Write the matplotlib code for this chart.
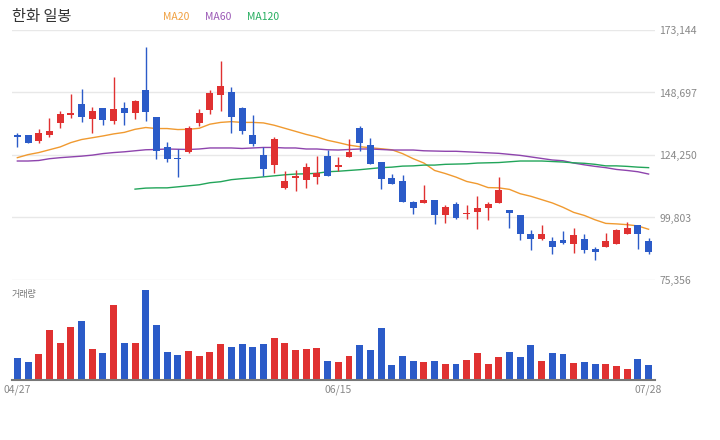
import matplotlib
matplotlib.use('Agg')
import matplotlib.pyplot as plt
import numpy as np

plt.rcParams['font.family'] = ['Noto Sans CJK KR', 'DejaVu Sans']

# daily OHLC (KRW)
opens = [131900, 131900, 129700, 132100, 136800, 139800, 144100, 138300, 142500, 137600,
         142500, 140700, 149600, 139000, 127200, 123200, 125300, 136700, 141800, 147600,
         148800, 142500, 131900, 124100, 120200, 111500, 115200, 114300, 115500, 123700,
         119500, 123400, 134700, 128000, 121700, 115100, 113900, 106000, 105400, 106800,
         100700, 104900, 101100, 101800, 103400, 105400, 102800, 100600, 93500, 91300,
         90700, 91100, 89300, 91500, 87300, 88100, 89600, 93500, 97000, 90700]
highs = [133000, 132200, 134300, 138900, 141400, 148000, 150000, 142900, 142500, 154700,
         144900, 145600, 166600, 139000, 129200, 126700, 135500, 142100, 149600, 161000,
         150800, 142900, 139800, 127400, 131200, 117800, 118200, 121300, 123700, 126100,
         123300, 130400, 135500, 130800, 121700, 117000, 116600, 106400, 112700, 106800,
         104500, 106000, 104500, 108400, 105700, 115500, 102800, 100900, 94900, 97000,
         92300, 94700, 95800, 93500, 88400, 93900, 95400, 98200, 97000, 91900]
lows = [127400, 128900, 128900, 131300, 134800, 138700, 137200, 132800, 136000, 136400,
        136000, 138300, 137600, 122600, 121500, 115600, 124900, 135500, 140200, 141400,
        132700, 132300, 127600, 116000, 117400, 110800, 110100, 111500, 113100, 115900,
        117800, 123400, 125800, 120700, 110800, 112800, 105800, 101100, 105400, 97100,
        97500, 99100, 99100, 95200, 98700, 105400, 95600, 90900, 86900, 90900,
        85400, 89300, 86000, 86100, 83000, 88100, 89600, 93500, 87600, 85400]
closes = [131400, 128900, 132700, 133500, 140200, 140600, 139100, 141400, 137900, 142100,
          140700, 145300, 141100, 125800, 122600, 122800, 134700, 140600, 148400, 151200,
          139000, 133500, 128400, 118600, 130400, 113900, 116000, 119400, 117400, 115900,
          120200, 125300, 128900, 120700, 114800, 112800, 105800, 103400, 106800, 100700,
          104100, 99500, 101700, 103700, 104900, 110400, 101500, 93200, 91300, 93500,
          88100, 89900, 93100, 86900, 86500, 90700, 94800, 95800, 93500, 86500]

# volume (thousand shares)
volumes = [220, 180, 260, 500, 370, 530, 590, 310, 270, 750, 370, 370, 900, 550, 280,
           250, 290, 240, 280, 360, 330, 360, 330, 360, 420, 370, 300, 310, 320, 190,
           180, 240, 350, 300, 520, 150, 240, 190, 180, 190, 160, 160, 200, 270, 160,
           230, 280, 230, 350, 190, 270, 260, 170, 180, 160, 160, 140, 110, 210, 150]

ma20 = [123200, 124400, 125200, 126300, 127400, 129100, 130300, 131000, 131700, 132500,
        133100, 134300, 135000, 134600, 134600, 134200, 134300, 134700, 136300, 137000,
        137300, 137000, 137000, 136800, 135900, 134700, 133500, 132300, 131300, 130000,
        129100, 128100, 127500, 127100, 126700, 126300, 124800, 122800, 121100, 118200,
        117000, 115600, 113900, 113000, 111500, 111400, 110800, 109100, 108100, 106800,
        105500, 103800, 101800, 100600, 98900, 97500, 97300, 97000, 96500, 95200]
ma60 = [121900, 121900, 122100, 122800, 123200, 123500, 123800, 124200, 124800, 125200,
        125500, 125900, 126300, 126400, 126600, 126500, 126400, 126600, 127000, 127000,
        127000, 126800, 127000, 127200, 127200, 127000, 127000, 126600, 126600, 126300,
        126200, 126400, 126600, 126600, 126400, 126200, 126200, 126200, 125900, 125800,
        125700, 125700, 125500, 125300, 125100, 124900, 124500, 124100, 123500, 122900,
        122300, 122000, 121100, 120400, 119800, 119300, 118600, 118200, 117700, 116800]
# MA120 starts at day 11
ma120 = [None] * 11 + [
        110900, 111300, 111400, 111400, 111800, 112200, 112600, 113400, 113800, 114600,
        115000, 115300, 115700, 116100, 116500, 116800, 116900, 117100, 117700, 117900,
        118200, 118500, 118900, 119300, 119500, 119900, 120000, 120300, 120300, 120600,
        120700, 120800, 121100, 121200, 121300, 121600, 121900, 121900, 121900, 121700,
        121500, 121200, 121000, 120600, 120000, 120000, 119800, 119500, 119300]

price_ticks = [75356, 99803, 124250, 148697, 173144]
date_pos = [0, 30, 59]
date_labels = ['04/27', '06/15', '07/28']

RED = '#e03131'
BLUE = '#2b5bc8'

fig = plt.figure(figsize=(7.2, 4.4), dpi=100)
ax = fig.add_axes([12/720, 1-280/440, 643/720, 250/440])
axv = fig.add_axes([12/720, 1-380/440, 643/720, 100/440], sharex=ax)

x = np.arange(len(opens))
o = np.array(opens); h = np.array(highs); l = np.array(lows); c = np.array(closes)
up = c >= o
colors = np.where(up, RED, BLUE)

# moving averages
ax.plot(x, ma20, color='#f09a30', lw=1, zorder=2)
ax.plot(x, ma60, color='#8e44ad', lw=1, zorder=2)
m120 = np.array([np.nan if v is None else v for v in ma120], dtype=float)
ax.plot(x, m120, color='#22a55a', lw=1, zorder=2)

# candles
ax.vlines(x, l, h, colors=colors, lw=1, zorder=3)
body_lo = np.minimum(o, c)
body_h = np.maximum(np.abs(c - o), 350)
ax.bar(x, body_h, bottom=body_lo, width=0.65, color=colors, zorder=4)

ax.set_xlim(-0.5, 59.6)
ax.set_ylim(75356, 173144)
ax.set_yticks(price_ticks)
ax.set_yticklabels([f'{v:,}' for v in price_ticks])
ax.yaxis.tick_right()
ax.tick_params(axis='y', length=0, pad=3, labelsize=7.5, labelcolor='#888888')
ax.tick_params(axis='x', length=0, labelbottom=False)
ax.grid(axis='y', color='#e8e8e8', lw=1)
for s in ax.spines.values():
    s.set_visible(False)

# volume
axv.bar(x, volumes, width=0.65, color=colors)
axv.set_ylim(0, 1000)
axv.set_yticks([])
for s in ['top', 'left', 'right']:
    axv.spines[s].set_visible(False)
axv.spines['bottom'].set_color('#777777')
axv.spines['bottom'].set_linewidth(1.5)
axv.set_xticks(date_pos)
axv.set_xticklabels(date_labels)
axv.tick_params(axis='x', length=0, pad=3, labelsize=7.5, labelcolor='#888888')

fig.text(12/720, 1-17/440, '한화 일봉', fontsize=11, color='#333333', va='center')
fig.text(163/720, 1-17/440, 'MA20', fontsize=7.5, color='#f0a040', va='center')
fig.text(205/720, 1-17/440, 'MA60', fontsize=7.5, color='#9b59b6', va='center')
fig.text(247/720, 1-17/440, 'MA120', fontsize=7.5, color='#27ae60', va='center')
fig.text(12/720, 1-295/440, '거래량', fontsize=6.5, color='#777777', va='center')

fig.savefig('out.png', dpi=100)
